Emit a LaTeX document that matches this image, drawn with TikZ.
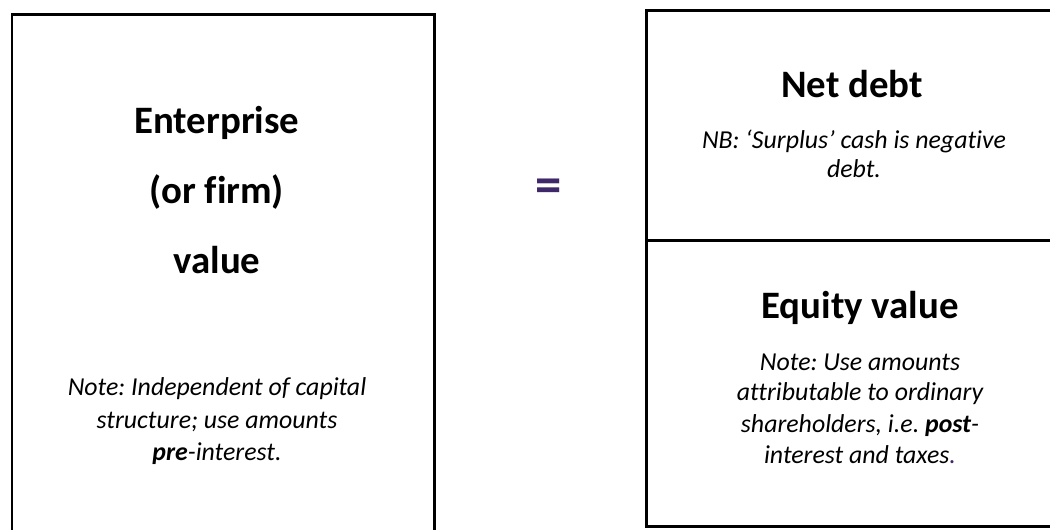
\documentclass[tikz,border=0pt]{standalone}
\usepackage{fontspec}
\setmainfont{Carlito}[Ligatures={NoCommon}]
\usetikzlibrary{positioning}
\definecolor{eqPurple}{RGB}{62,40,105}
\frenchspacing

\begin{document}
\begin{tikzpicture}[x=0.02cm,y=-0.02cm,
  box/.style={draw=black,line width=1.7pt},
  ttl/.style={anchor=base,inner sep=0pt,font=\fontsize{22.1}{26}\selectfont\bfseries},
  nte/.style={anchor=base,inner sep=0pt,font=\fontsize{14.7}{17.6}\selectfont\itshape}
]
\useasboundingbox (0,0) rectangle (1050,529);
\clip (0,0) rectangle (1050,529);

% Boxes
\draw[box] (12,14) rectangle (434,560);
\draw[box] (646,10) rectangle (1075,526);
\draw[box] (646,240) -- (1075,240);

% Enterprise value (left)
\foreach \y/\txt [count=\i] in {133/Enterprise, 203/{(or firm)}, 273/value}
  \node[ttl] (evTitle\i) at (217,\y) {\txt};
\foreach \y/\txt [count=\i] in {
  395/{Note: Independent of capital},
  428/{structure; use amounts},
  460/{\textbf{pre}-interest.}}
  \node[nte] (evNote\i) at (217,\y) {\txt};

% Equals sign
\node[anchor=base,inner sep=0pt,text=eqPurple,
      font=\fontsize{30}{30}\selectfont\bfseries] (eq) at (549,202) {=};

% Net debt (top right)
\node[ttl] (debtTitle) at (852,97) {Net debt};
\foreach \y/\txt [count=\i] in {
  148/{NB: ‘Surplus’ cash is negative},
  177/{debt.}}
  \node[nte] (debtNote\i) at (854,\y) {\txt};

% Equity value (bottom right)
\node[ttl] (eqvTitle) at (860,318) {Equity value};
\foreach \y/\txt [count=\i] in {
  370/{Note: Use amounts},
  400/{attributable to ordinary},
  432/{shareholders, i.e. \textbf{post}-},
  463/{interest and taxes{\color{eqPurple}.}}}
  \node[nte] (eqvNote\i) at (860,\y) {\txt};
\end{tikzpicture}
\end{document}
